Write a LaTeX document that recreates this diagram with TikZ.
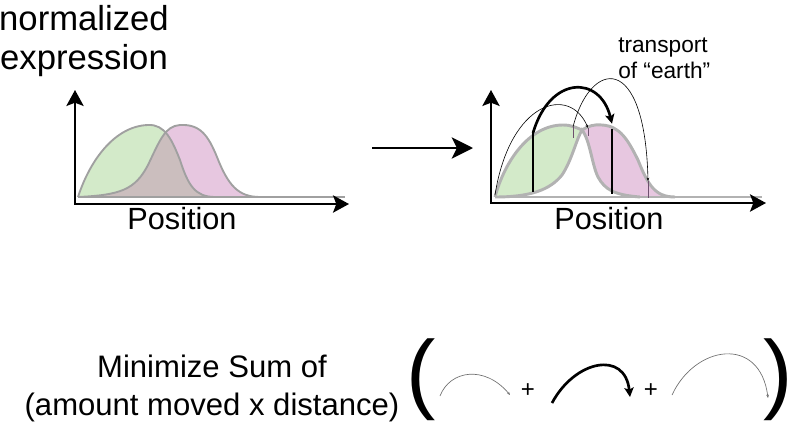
\documentclass[tikz,border=0pt]{standalone}
\usepackage{fontspec}
\setmainfont{Liberation Sans}
\usetikzlibrary{arrows.meta,positioning}
\definecolor{cGreen}{RGB}{211,234,201}
\definecolor{cPink}{RGB}{231,199,224}
\definecolor{cMix}{RGB}{203,190,190}
\definecolor{cEdge}{RGB}{160,160,160}
\definecolor{cEdgeLt}{RGB}{178,178,178}
\definecolor{cTick}{RGB}{110,80,110}
\definecolor{cArc}{RGB}{110,110,110}
\tikzset{
	axarr/.style={{Stealth[length=12pt,width=13pt,inset=2.5pt]}-{Stealth[length=12pt,width=13pt,inset=2.5pt]},
		line width=1.5pt},
	midarr/.style={-{Stealth[length=16pt,width=16pt,inset=4pt]}, line width=1.7pt},
	edge/.style={draw=cEdge, line width=1.4pt},
	edgelt/.style={draw=cEdgeLt, line width=2.2pt},
	bigarr/.style={-{Stealth[length=7pt,width=7pt,inset=1.5pt]}, line width=2pt},
	thinarr/.style={-{Stealth[length=2.5pt,width=2pt]}, line width=0.45pt},
	arcarr/.style={-{Stealth[length=2.5pt,width=2pt]}, line width=0.5pt, draw=cArc},
	bar/.style={line width=2pt},
	tickln/.style={draw=cTick, line width=0.5pt},
	lbl/.style={inner sep=0pt, font=\fontsize{23}{28.5}\selectfont},
	plus/.style={inner sep=0pt, font=\fontsize{18}{18}\selectfont},
	paren/.style={inner sep=0pt, font=\fontsize{66}{66}\selectfont},
}
\begin{document}
\begin{tikzpicture}[x=0.75pt, y=-0.75pt]
	\useasboundingbox (0,0) rectangle (793,425);
	% left plot: two overlapping profiles
	\fill[cGreen] (78,197) .. controls (90,160) and (115,126) .. (148,125)
		.. controls (165,124) and (172,140) .. (180,160)
		.. controls (188,185) and (195,197) .. (215,197) -- cycle;
	\fill[cPink] (78,197) .. controls (120,195) and (135,190) .. (148,165)
		.. controls (160,140) and (165,126) .. (180,125)
		.. controls (200,124) and (208,135) .. (217,157)
		.. controls (228,185) and (238,197) .. (260,197) -- cycle;
	\begin{scope}
		\clip (78,197) .. controls (90,160) and (115,126) .. (148,125)
			.. controls (165,124) and (172,140) .. (180,160)
			.. controls (188,185) and (195,197) .. (215,197) -- cycle;
		\fill[cMix] (78,197) .. controls (120,195) and (135,190) .. (148,165)
			.. controls (160,140) and (165,126) .. (180,125)
			.. controls (200,124) and (208,135) .. (217,157)
			.. controls (228,185) and (238,197) .. (260,197) -- cycle;
	\end{scope}
	\draw[edge] (78,197) .. controls (90,160) and (115,126) .. (148,125)
		.. controls (165,124) and (172,140) .. (180,160)
		.. controls (188,185) and (195,197) .. (215,197);
	\draw[edge] (78,197) .. controls (120,195) and (135,190) .. (148,165)
		.. controls (160,140) and (165,126) .. (180,125)
		.. controls (200,124) and (208,135) .. (217,157)
		.. controls (228,185) and (238,197) .. (260,197);
	\draw[edge] (78,197) -- (345,197);
	\coordinate (oL) at (75,204);
	\coordinate (yL) at (75,90);
	\coordinate (xL) at (349,204);
	\draw[axarr] (yL) -- (oL) -- (xL);
	\node[lbl, anchor=base] (posL) at (182,229) {Position};
	\node[anchor=base, align=center, inner sep=0pt,
		font=\fontsize{26}{29}\selectfont] (ylab) at (84,69) {normalized\\expression};

	% arrow between plots
	\coordinate (mA) at (372,148);
	\coordinate (mB) at (473,148);
	\draw[midarr] (mA) -- (mB);

	% right plot: profile after transport
	\fill[cGreen] (495,197) .. controls (505,160) and (530,125) .. (563,125)
		.. controls (572,125) and (577,128) .. (582,130)
		.. controls (576,140) and (572,160) .. (562,175)
		.. controls (550,190) and (530,197) .. (495,197) -- cycle;
	\fill[cPink] (582,130) .. controls (588,126) and (595,124) .. (602,125)
		.. controls (620,126) and (628,140) .. (638,160)
		.. controls (648,185) and (655,197) .. (675,197) -- (640,197)
		.. controls (615,195) and (605,190) .. (598,177)
		.. controls (592,165) and (590,140) .. (582,130) -- cycle;
	\draw[edgelt] (495,197) -- (762,197);
	\draw[edgelt] (495,197) .. controls (505,160) and (530,125) .. (563,125)
		.. controls (572,125) and (577,128) .. (582,130)
		.. controls (588,126) and (595,124) .. (602,125)
		.. controls (620,126) and (628,140) .. (638,160)
		.. controls (648,185) and (655,197) .. (675,197);
	\draw[edgelt] (495,197) .. controls (530,197) and (550,190) .. (562,175)
		.. controls (572,160) and (576,140) .. (582,130)
		.. controls (590,140) and (592,165) .. (598,177)
		.. controls (605,190) and (615,195) .. (640,197);
	\coordinate (b1t) at (533,133);
	\coordinate (b1b) at (533,192);
	\coordinate (b2t) at (612,129);
	\coordinate (b2b) at (612,194);
	\draw[bar] (b1t) -- (b1b);
	\draw[bar] (b2t) -- (b2b);
	\coordinate (t1t) at (573,127);
	\coordinate (t1b) at (573,138);
	\coordinate (t2t) at (588,128);
	\coordinate (t2b) at (588,136);
	\coordinate (t3t) at (648,181);
	\coordinate (t3b) at (648,198);
	\draw[tickln] (t1t) -- (t1b);
	\draw[tickln] (t2t) -- (t2b);
	\draw[tickln] (t3t) -- (t3b);
	\coordinate (s1) at (495,195);
	\draw[thinarr] (s1) .. controls (510,100) and (570,85) .. (t2t);
	\draw[thinarr] (t1t) .. controls (590,60) and (645,50) .. (t3t);
	\draw[bigarr] (b1t) .. controls (550,75) and (600,75) .. ([yshift=4pt]b2t);
	\coordinate (oR) at (491,203);
	\coordinate (yR) at (491,90);
	\coordinate (xR) at (766,203);
	\draw[axarr] (yR) -- (oR) -- (xR);
	\node[lbl, anchor=base] (posR) at (609,229) {Position};
	\node[anchor=base west, align=left, inner sep=0pt,
		font=\fontsize{17}{19.5}\selectfont] (transp) at (618,78) {transport\\of ``earth''};

	% objective
	\node[lbl, anchor=base, align=center, font=\fontsize{23.3}{28.5}\selectfont]
		(goal) at (212,415) {Minimize Sum of\\(amount moved x distance)};
	\node[paren, anchor=base west] (lpar) at (406,402) {(};
	\node[paren, anchor=base east] (rpar) at (793,402) {)};
	\coordinate (a1s) at (440,396);
	\coordinate (a1e) at (510,395);
	\draw[arcarr] (a1s) .. controls (450,370) and (485,365) .. (a1e);
	\node[plus] (plusA) at (528,391) {+};
	\coordinate (a2s) at (552,403);
	\coordinate (a2e) at (630,397);
	\draw[bigarr] (a2s) .. controls (575,360) and (625,350) .. (a2e);
	\node[plus] (plusB) at (651,391) {+};
	\coordinate (a3s) at (672,395);
	\coordinate (a3e) at (768,398);
	\draw[arcarr] (a3s) .. controls (695,345) and (760,335) .. (a3e);
\end{tikzpicture}
\end{document}
